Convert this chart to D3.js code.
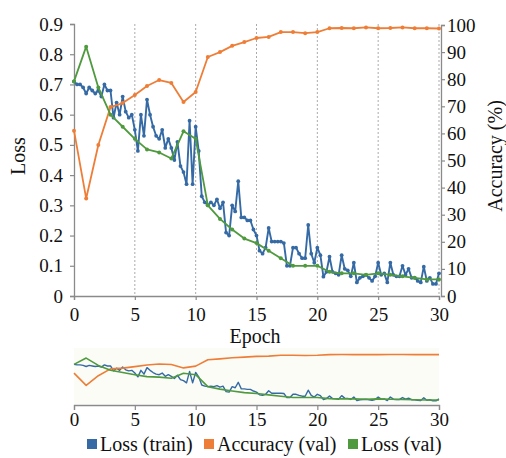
<!DOCTYPE html>
<html><head><meta charset="utf-8">
<script src="https://cdn.jsdelivr.net/npm/d3@7"></script>
<style>
body{margin:0;background:#fff}
svg{display:block}
svg text{font-family:"Liberation Serif","Times New Roman","DejaVu Serif","Noto Serif",serif !important;fill:#111}
</style>
</head><body>
<svg id="c" width="506" height="458"></svg>
<script>
const epochs=[0,1,2,3,4,5,6,7,8,9,10,11,12,13,14,15,16,17,18,19,20,21,22,23,24,25,26,27,28,29,30];
const accVal=[61,36,55.7,69.7,71.2,74.2,77.5,79.7,78.6,71.6,75.3,88.2,90,92.3,93.7,95.2,95.6,97.4,97.4,97,97.4,98.8,98.9,98.8,99.1,98.8,98.9,99.1,98.8,98.8,98.7];
const lossVal=[0.71,0.825,0.69,0.60,0.56,0.52,0.485,0.475,0.455,0.545,0.52,0.30,0.255,0.22,0.19,0.175,0.15,0.125,0.10,0.10,0.10,0.08,0.075,0.075,0.07,0.075,0.07,0.065,0.06,0.055,0.055];
const stepsPerEpoch=4;
const lossTrain=[
0.71,0.70,0.70,0.69, 0.67,0.69,0.68,0.67, 0.68,0.66,0.70,0.68, 0.68,0.59,0.64,0.60,
0.66,0.61,0.59,0.60, 0.55,0.48,0.60,0.53, 0.65,0.60,0.56,0.53, 0.52,0.55,0.49,0.52,
0.49,0.45,0.51,0.43, 0.41,0.37,0.58,0.37, 0.56,0.48,0.33,0.31, 0.30,0.31,0.30,0.32,
0.29,0.31,0.21,0.20, 0.30,0.28,0.38,0.26, 0.26,0.25,0.25,0.22, 0.20,0.15,0.14,0.16,
0.225,0.18,0.18,0.18, 0.18,0.175,0.10,0.10, 0.16,0.16,0.14,0.125, 0.125,0.235,0.14,0.11,
0.16,0.135,0.064,0.08, 0.13,0.08,0.075,0.07, 0.135,0.09,0.085,0.065, 0.11,0.045,0.06,0.065,
0.07,0.06,0.05,0.065, 0.11,0.07,0.075,0.045, 0.11,0.07,0.065,0.065, 0.10,0.07,0.09,0.06,
0.06,0.05,0.045,0.097, 0.05,0.06,0.04,0.04, 0.075];
const xTicks=[0,5,10,15,20,25,30];
const gridTicks=[5,10,15,20,25,30];
const lossTicks=[0,0.1,0.2,0.3,0.4,0.5,0.6,0.7,0.8,0.9];
const accTicks=[0,10,20,30,40,50,60,70,80,90,100];
const seriesNames=["Loss (train)","Accuracy (val)","Loss (val)"];
const colors=["#356aa5","#ee7e37","#4f9a3e"];
const FONT='"Liberation Serif","Times New Roman","DejaVu Serif",serif';

const svg=d3.select("#c");
const x=d3.scaleLinear().domain([0,30]).range([74,439]);
const yL=d3.scaleLinear().domain([0,0.9]).range([296,24]);
const yA=d3.scaleLinear().domain([0,100]).range([296,25]);
const yLc=d3.scaleLinear().domain([0,0.9]).range([403,354]);
const yAc=d3.scaleLinear().domain([0,100]).range([403,354]);

const trainPts=lossTrain.map((v,i)=>[i/stepsPerEpoch,v]);
const accPts=epochs.map((e,i)=>[e,accVal[i]]);
const valPts=epochs.map((e,i)=>[e,lossVal[i]]);

// context background first
svg.append("rect").attr("x",x(0)).attr("y",348).attr("width",x(30)-x(0)).attr("height",56).attr("fill","#fbfcf6");

// grid
svg.append("g").selectAll("line").data(gridTicks).join("line")
  .attr("x1",d=>x(d)).attr("x2",d=>x(d)).attr("y1",yL(0.9)).attr("y2",yL(0))
  .attr("stroke","#aaa").attr("stroke-width",1).attr("stroke-dasharray","2,2");

function styleAxis(g){
  g.attr("font-family",FONT).attr("font-size",19);
  g.selectAll(".domain").attr("stroke","#8a8a8a").attr("stroke-width",1.3);
  g.selectAll(".tick line").attr("stroke","#8a8a8a").attr("stroke-width",1.2);
  g.selectAll("text").style("font-family",FONT).style("font-size","19px").attr("fill","#111");
}
svg.append("g").attr("transform","translate(0,296)")
  .call(d3.axisBottom(x).tickValues(xTicks).tickSize(4).tickPadding(8).tickFormat(d3.format("d"))).call(styleAxis);
svg.append("g").attr("transform","translate(74,0)")
  .call(d3.axisLeft(yL).tickValues(lossTicks).tickSize(4).tickPadding(7).tickFormat(d=>d===0?"0":d3.format(".1f")(d))).call(styleAxis);
svg.append("g").attr("transform","translate(441,0)")
  .call(d3.axisRight(yA).tickValues(accTicks).tickSize(4).tickPadding(2).tickFormat(d3.format("d"))).call(styleAxis);

// labels
function label(t){ return t.style("font-family",FONT).style("font-size","20px"); }
label(svg.append("text").attr("x",255).attr("y",343).attr("text-anchor","middle").text("Epoch"));
label(svg.append("text").attr("transform","translate(25,156) rotate(-90)").attr("text-anchor","middle").text("Loss"));
label(svg.append("text").attr("transform","translate(502,156) rotate(-90)").attr("text-anchor","middle").text("Accuracy (%)"));

function series(pts,xs,ys,color,w,markers,r){
  const line=d3.line().x(d=>xs(d[0])).y(d=>ys(d[1]));
  svg.append("path").datum(pts).attr("d",line).attr("fill","none").attr("stroke",color).attr("stroke-width",w).attr("stroke-linejoin","round");
  if(markers){
    svg.append("g").selectAll("circle").data(pts).join("circle")
      .attr("cx",d=>xs(d[0])).attr("cy",d=>ys(d[1])).attr("r",r).attr("fill",color);
  }
}
series(trainPts,x,yL,colors[0],1.9,true,1.9);
series(accPts,x,yA,colors[1],1.8,true,2.0);
series(valPts,x,yL,colors[2],1.8,true,2.0);

// context chart
series(trainPts,x,yLc,colors[0],1.4,false);
series(accPts,x,yAc,colors[1],1.6,false);
series(valPts,x,yLc,colors[2],1.6,false);
svg.append("g").attr("transform","translate(0,405)")
  .call(d3.axisBottom(x).tickValues(xTicks).tickSize(5).tickPadding(3).tickFormat(d3.format("d"))).call(styleAxis);

// legend
const legX=[87,204,348];
const lg=svg.append("g");
seriesNames.forEach((n,i)=>{
  lg.append("rect").attr("x",legX[i]).attr("y",439).attr("width",10).attr("height",10).attr("fill",colors[i]);
  label(lg.append("text").attr("x",legX[i]+13).attr("y",451).text(n));
});
</script>
</body></html>
